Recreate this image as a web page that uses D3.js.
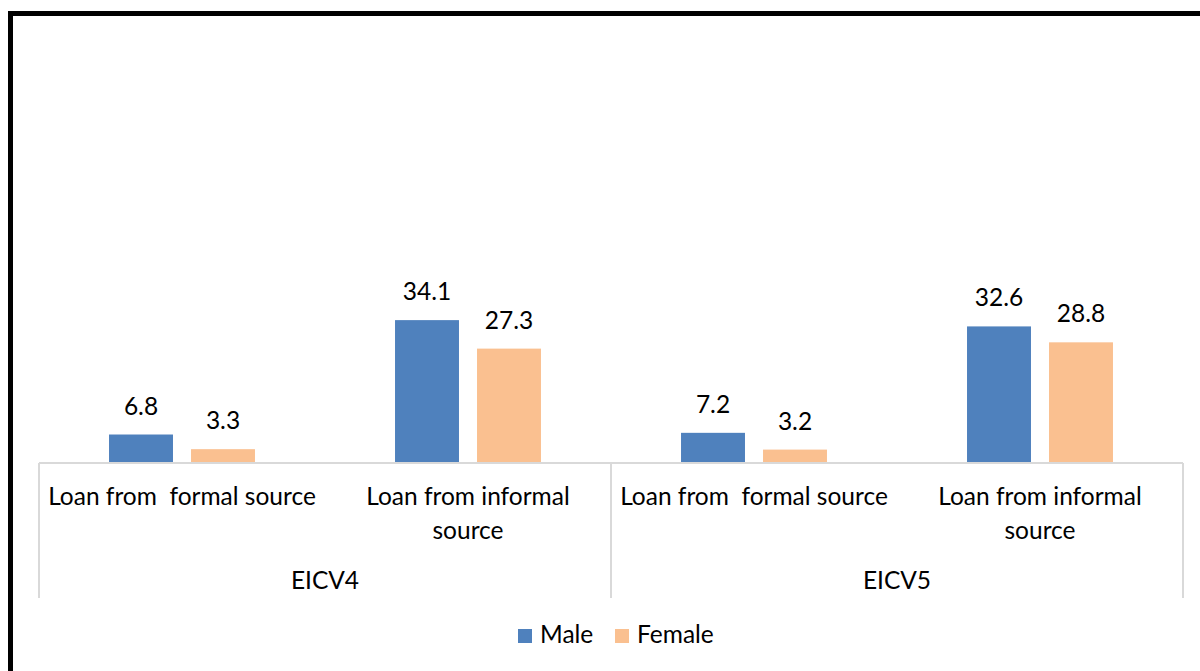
<!DOCTYPE html>
<html>
<head>
<meta charset="utf-8">
<script src="https://cdn.jsdelivr.net/npm/d3@7"></script>
<style>
  body { margin: 0; background: #fff; }
  svg { display: block; font-family: Lato, "Open Sans", sans-serif; }
</style>
</head>
<body>
<svg id="chart" width="1200" height="671"></svg>
<script>
// chart data
const surveys = ["EICV4", "EICV5"];
const categories = ["Loan from  formal source", "Loan from informal\nsource"];
const seriesNames = ["Male", "Female"];
const maleValues = [6.8, 34.1, 7.2, 32.6];
const femaleValues = [3.3, 27.3, 3.2, 28.8];
const colors = ["#4f81bd", "#fac090"];

const svg = d3.select("#chart");
const fontSize = 24.5;

// outer frame (runs off the right and bottom edge like the source image)
svg.append("rect")
  .attr("x", 10.5)
  .attr("y", 13.5)
  .attr("width", 1250)
  .attr("height", 720)
  .attr("fill", "none")
  .attr("stroke", "#000")
  .attr("stroke-width", 5);

const left = 39, right = 1183, baseY = 463;

// flatten into rows: one per survey x category
const rows = [];
surveys.forEach((s, i) => {
  categories.forEach((c, j) => {
    const k = i * categories.length + j;
    rows.push({ survey: s, cat: c, key: s + "|" + c, values: [maleValues[k], femaleValues[k]] });
  });
});

const xGroup = d3.scaleBand().domain(surveys).range([left, right]);
const xCat = d3.scaleBand().domain(rows.map(d => d.key)).range([left, right]);
const xSeries = d3.scaleBand().domain(seriesNames).range([0, xCat.bandwidth()]).paddingInner(0.22).paddingOuter(0.854);
const y = d3.scaleLinear().domain([0, 40]).range([baseY, baseY - 40 * 4.19]);

// bars
const catG = svg.append("g").selectAll("g")
  .data(rows)
  .join("g")
  .attr("transform", d => `translate(${xCat(d.key)},0)`);

catG.selectAll("rect")
  .data(d => d.values.map((v, i) => ({ name: seriesNames[i], v, i })))
  .join("rect")
  .attr("x", d => xSeries(d.name))
  .attr("width", xSeries.bandwidth())
  .attr("y", d => y(d.v))
  .attr("height", d => y(0) - y(d.v))
  .attr("fill", d => colors[d.i]);

catG.selectAll("text.val")
  .data(d => d.values.map((v, i) => ({ name: seriesNames[i], v, i })))
  .join("text")
  .attr("class", "val")
  .attr("x", d => xSeries(d.name) + xSeries.bandwidth() / 2)
  .attr("y", d => y(d.v) - 20)
  .attr("text-anchor", "middle")
  .attr("font-size", fontSize)
  .attr("fill", "#000")
  .text(d => d.v.toFixed(1));

// axis: baseline + group separators
const axisColor = "#d9d9d9";
const axisG = svg.append("g").attr("stroke", axisColor).attr("stroke-width", 2);
axisG.append("line")
  .attr("x1", left).attr("x2", right)
  .attr("y1", baseY).attr("y2", baseY);
axisG.selectAll("line.sep")
  .data([...surveys.map(s => xGroup(s)), right])
  .join("line")
  .attr("class", "sep")
  .attr("x1", d => d).attr("x2", d => d)
  .attr("y1", baseY).attr("y2", 598);

// category labels
svg.append("g").selectAll("text")
  .data(rows)
  .join("text")
  .attr("x", d => xCat(d.key) + xCat.bandwidth() / 2)
  .attr("y", 505)
  .attr("text-anchor", "middle")
  .attr("font-size", fontSize)
  .style("white-space", "pre")
  .each(function (d) {
    d3.select(this).selectAll("tspan")
      .data(d.cat.split("\n"))
      .join("tspan")
      .attr("x", xCat(d.key) + xCat.bandwidth() / 2)
      .attr("dy", (t, i) => i ? 34 : 0)
      .text(t => t);
  });

// survey labels
svg.append("g").selectAll("text")
  .data(surveys)
  .join("text")
  .attr("x", d => xGroup(d) + xGroup.bandwidth() / 2)
  .attr("y", 589)
  .attr("text-anchor", "middle")
  .attr("font-size", fontSize)
  .text(d => d);

// legend
const legendX = [518, 615];
const legend = svg.append("g").selectAll("g")
  .data(seriesNames)
  .join("g")
  .attr("transform", (d, i) => `translate(${legendX[i]},629)`);
legend.append("rect")
  .attr("width", 14).attr("height", 14)
  .attr("fill", (d, i) => colors[i]);
legend.append("text")
  .attr("x", 22).attr("y", 14)
  .attr("font-size", fontSize)
  .text(d => d);
</script>
</body>
</html>
